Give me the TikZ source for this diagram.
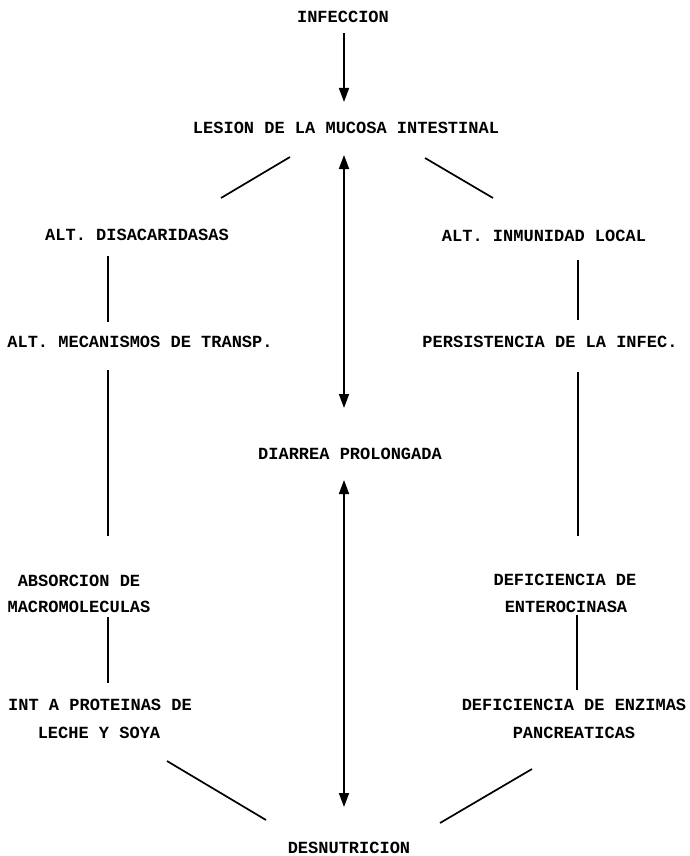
\documentclass[tikz,border=0pt]{standalone}
\usepackage{fontspec}
\setmonofont{Liberation Mono}
\usetikzlibrary{arrows.meta}
\begin{document}
\begin{tikzpicture}[x=1pt,y=-1pt,
  lbl/.style={font=\ttfamily\bfseries\fontsize{17}{20}\selectfont, inner sep=0pt, anchor=center},
  conn/.style={line width=1.7pt},
  arr/.style={conn,-{Triangle[width=10pt,length=14pt]}},
  darr/.style={conn,{Triangle[width=10pt,length=14pt]}-{Triangle[width=10pt,length=14pt]}}]
\useasboundingbox[fill=white] (0,0) rectangle (689,856);
% texts
\node[lbl] (inf) at (343,17) {INFECCION};
\node[lbl] (les) at (346,128) {LESION DE LA MUCOSA INTESTINAL};
\node[lbl] (dis) at (137,235) {ALT. DISACARIDASAS};
\node[lbl] (mec) at (140,342) {ALT. MECANISMOS DE TRANSP.};
\node[lbl] (abs) at (79,581) {ABSORCION DE};
\node[lbl] (mac) at (79,607) {MACROMOLECULAS};
\node[lbl] (intp) at (100,705) {INT A PROTEINAS DE};
\node[lbl] (lec) at (99,733) {LECHE Y SOYA};
\node[lbl] (inm) at (544,236) {ALT. INMUNIDAD LOCAL};
\node[lbl] (per) at (550,342) {PERSISTENCIA DE LA INFEC.};
\node[lbl] (def1) at (565,580) {DEFICIENCIA DE};
\node[lbl] (ent) at (566,607) {ENTEROCINASA};
\node[lbl] (def2) at (574,705) {DEFICIENCIA DE ENZIMAS};
\node[lbl] (pan) at (574,733) {PANCREATICAS};
\node[lbl] (dia) at (350,454) {DIARREA PROLONGADA};
\node[lbl] (des) at (349,848) {DESNUTRICION};
% connector end points
\coordinate (a1s) at (344,33);   \coordinate (a1e) at (344,102);
\coordinate (d1s) at (344,155);  \coordinate (d1e) at (344,408);
\coordinate (d2s) at (344,480);  \coordinate (d2e) at (344,807);
\coordinate (ll1) at (290,157);  \coordinate (ll2) at (221,198);
\coordinate (rl1) at (425,158);  \coordinate (rl2) at (493,198);
\coordinate (lv1) at (108,256);  \coordinate (lv2) at (108,322);
\coordinate (lv3) at (108,370);  \coordinate (lv4) at (108,536);
\coordinate (lv5) at (108,617);  \coordinate (lv6) at (108,683);
\coordinate (rv1) at (578,260);  \coordinate (rv2) at (578,320);
\coordinate (rv3) at (578,372);  \coordinate (rv4) at (578,536);
\coordinate (rv5) at (577,615);  \coordinate (rv6) at (577,690);
\coordinate (bl1) at (167,761);  \coordinate (bl2) at (266,820);
\coordinate (br1) at (532,769);  \coordinate (br2) at (440,823);
% connectors
\draw[arr] (a1s) -- (a1e);
\draw[darr] (d1s) -- (d1e);
\draw[darr] (d2s) -- (d2e);
\draw[conn] (ll1) -- (ll2);
\draw[conn] (rl1) -- (rl2);
\draw[conn] (lv1) -- (lv2);
\draw[conn] (lv3) -- (lv4);
\draw[conn] (lv5) -- (lv6);
\draw[conn] (rv1) -- (rv2);
\draw[conn] (rv3) -- (rv4);
\draw[conn] (rv5) -- (rv6);
\draw[conn] (bl1) -- (bl2);
\draw[conn] (br1) -- (br2);
\end{tikzpicture}
\end{document}
